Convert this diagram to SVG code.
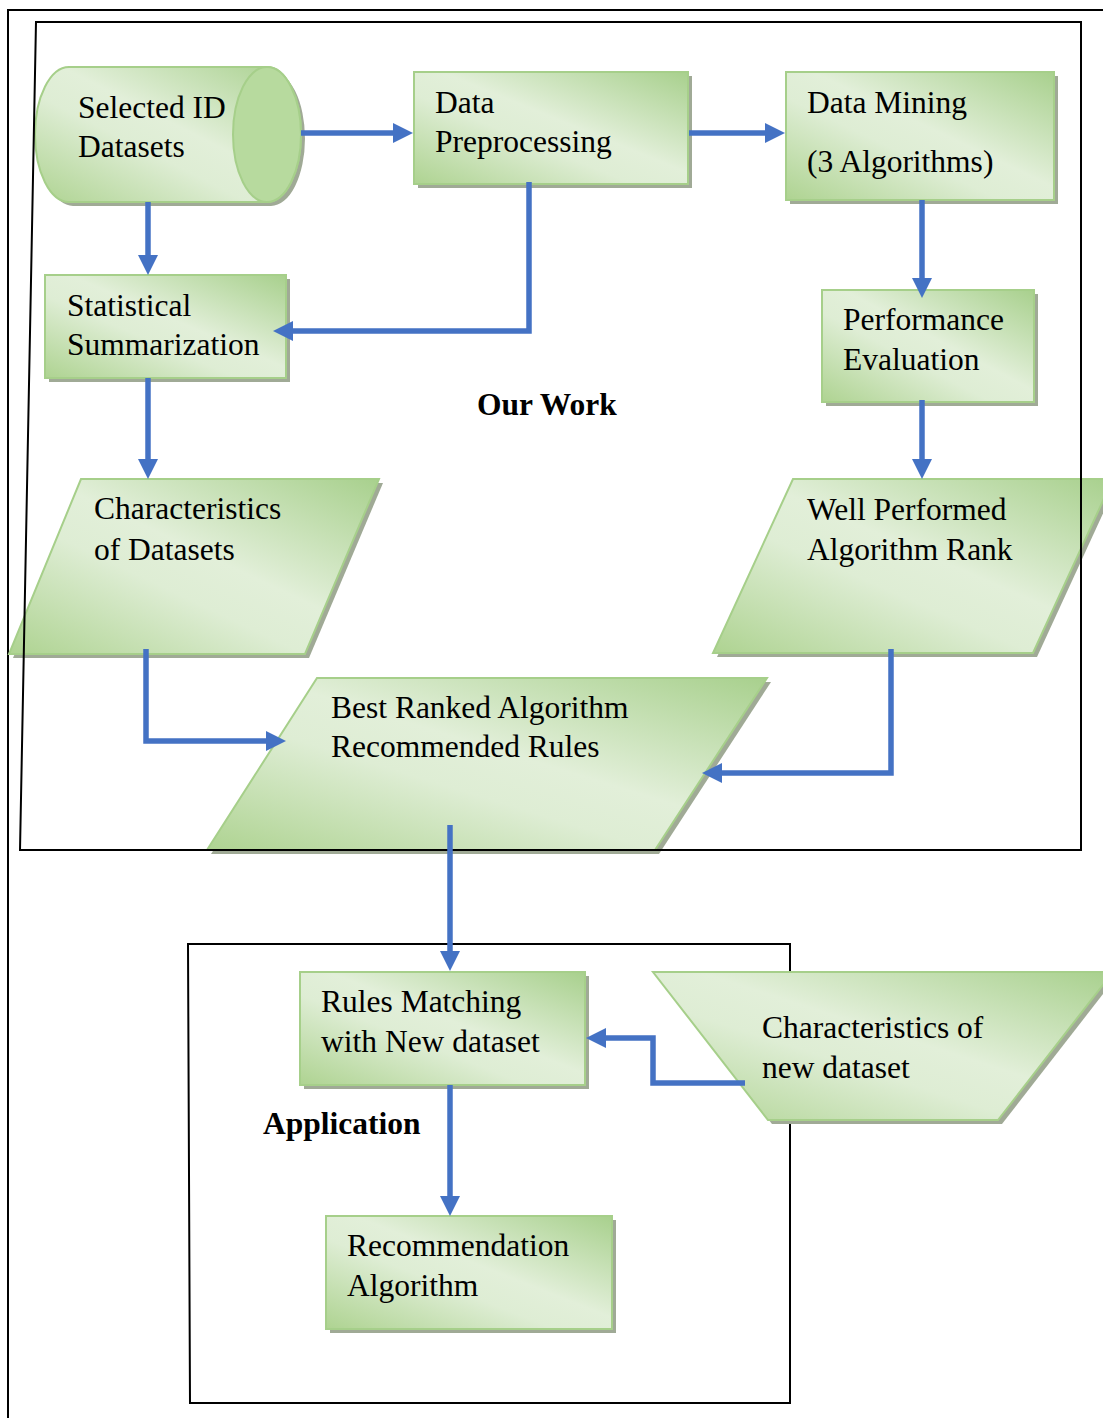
<svg xmlns="http://www.w3.org/2000/svg" width="1103" height="1418" viewBox="0 0 1103 1418">
  <style>
    .frame { fill: none; stroke: #000; stroke-width: 2; }
    .node { fill: url(#greenGrad); stroke: #a6cf8a; stroke-width: 2; }
    .shadow { fill: #a0aa96; }
    .label { font-family: "Liberation Serif", "Times New Roman", serif; font-size: 31.5px; fill: #000; }
    .title { font-family: "Liberation Serif", "Times New Roman", serif; font-size: 31.5px; font-weight: bold; fill: #000; }
    .conn { fill: none; stroke: #4472c4; stroke-width: 5.5; }
  </style>
  <defs>
    <linearGradient id="greenGrad" x1="1" y1="0" x2="0" y2="1">
      <stop offset="0" stop-color="#a8d08d"/>
      <stop offset="0.45" stop-color="#e2efd9"/>
      <stop offset="0.6" stop-color="#deedd4"/>
      <stop offset="1" stop-color="#aed391"/>
    </linearGradient>
    <marker id="arrow" markerUnits="userSpaceOnUse" markerWidth="20" markerHeight="20" refX="10" refY="10" orient="auto">
      <path d="M0,0 L20,10 L0,20 Z" fill="#4472c4"/>
    </marker>
  </defs>

  <rect width="1103" height="1418" fill="#fff"/>

  <!-- outer page frame -->
  <path class="frame" d="M8,1418 V10 H1103"/>

  <!-- application frame -->
  <path class="frame" d="M188,944 H790 V1403 H190 Z"/>

  <!-- nodes -->
  <g id="selected-datasets">
    <path class="shadow" d="M73,71 H271 A34,67.5 0 0 1 271,206 H73 A34,67.5 0 0 1 73,71 Z"/>
    <path class="node" d="M69,67 H267 A34,67.5 0 0 1 267,202 H69 A34,67.5 0 0 1 69,67 Z"/>
    <ellipse cx="267" cy="134.5" rx="34" ry="67.5" fill="#b7da9e" stroke="#a6cf8a" stroke-width="2"/>
    <text class="label" x="78" y="118">Selected ID</text>
    <text class="label" x="78" y="157">Datasets</text>
  </g>

  <g id="data-preprocessing">
    <rect class="shadow" x="418" y="76" width="274" height="112"/>
    <rect class="node" x="414" y="72" width="274" height="112"/>
    <text class="label" x="435" y="113">Data</text>
    <text class="label" x="435" y="152">Preprocessing</text>
  </g>

  <g id="data-mining">
    <rect class="shadow" x="790" y="76" width="268" height="128"/>
    <rect class="node" x="786" y="72" width="268" height="128"/>
    <text class="label" x="807" y="113">Data Mining</text>
    <text class="label" x="807" y="172">(3 Algorithms)</text>
  </g>

  <g id="statistical-summarization">
    <rect class="shadow" x="49" y="279" width="241" height="103"/>
    <rect class="node" x="45" y="275" width="241" height="103"/>
    <text class="label" x="67" y="316">Statistical</text>
    <text class="label" x="67" y="355">Summarization</text>
  </g>

  <g id="performance-evaluation">
    <rect class="shadow" x="826" y="294" width="212" height="112"/>
    <rect class="node" x="822" y="290" width="212" height="112"/>
    <text class="label" x="843" y="330">Performance</text>
    <text class="label" x="843" y="370">Evaluation</text>
  </g>

  <g id="dataset-characteristics">
    <path class="shadow" d="M85,483 H383 L309,658 H13 Z"/>
    <path class="node" d="M81,479 H379 L305,654 H9 Z"/>
    <text class="label" x="94" y="519">Characteristics</text>
    <text class="label" x="94" y="560">of Datasets</text>
  </g>

  <g id="algorithm-rank">
    <path class="shadow" d="M797,483 H1117 L1037,657 H717 Z"/>
    <path class="node" d="M793,479 H1113 L1033,653 H713 Z"/>
    <text class="label" x="807" y="520">Well Performed</text>
    <text class="label" x="807" y="560">Algorithm Rank</text>
  </g>

  <g id="recommended-rules">
    <path class="shadow" d="M321,682 H771 L659,854 H211 Z"/>
    <path class="node" d="M317,678 H767 L655,850 H207 Z"/>
    <text class="label" x="331" y="718">Best Ranked Algorithm</text>
    <text class="label" x="331" y="757">Recommended Rules</text>
  </g>

  <g id="rules-matching">
    <rect class="shadow" x="304" y="976" width="285" height="113"/>
    <rect class="node" x="300" y="972" width="285" height="113"/>
    <text class="label" x="321" y="1012">Rules Matching</text>
    <text class="label" x="321" y="1052">with New dataset</text>
  </g>

  <g id="new-dataset-characteristics">
    <path class="shadow" d="M657,976 H1117 L1002,1124 H772 Z"/>
    <path class="node" d="M653,972 H1113 L998,1120 H768 Z"/>
    <text class="label" x="762" y="1038">Characteristics of</text>
    <text class="label" x="762" y="1078">new dataset</text>
  </g>

  <g id="recommendation-algorithm">
    <rect class="shadow" x="330" y="1220" width="286" height="113"/>
    <rect class="node" x="326" y="1216" width="286" height="113"/>
    <text class="label" x="347" y="1256">Recommendation</text>
    <text class="label" x="347" y="1296">Algorithm</text>
  </g>

  <!-- "Our Work" frame, drawn over its nodes -->
  <path class="frame" d="M36,22 H1081 V850 H20 Z"/>

  <!-- section titles -->
  <text class="title" x="477" y="415">Our Work</text>
  <text class="title" x="263" y="1134">Application</text>

  <!-- connectors -->
  <g id="connectors">
    <path class="conn" marker-end="url(#arrow)" d="M301,133 H403"/>
    <path class="conn" marker-end="url(#arrow)" d="M689,133 H775"/>
    <path class="conn" marker-end="url(#arrow)" d="M148,202 V265"/>
    <path class="conn" marker-end="url(#arrow)" d="M529,182 V331 H283"/>
    <path class="conn" marker-end="url(#arrow)" d="M922,200 V288"/>
    <path class="conn" marker-end="url(#arrow)" d="M148,378 V469"/>
    <path class="conn" marker-end="url(#arrow)" d="M922,400 V469"/>
    <path class="conn" marker-end="url(#arrow)" d="M146,649 V741 H276"/>
    <path class="conn" marker-end="url(#arrow)" d="M891,649 V773 H712"/>
    <path class="conn" marker-end="url(#arrow)" d="M450,825 V961"/>
    <path class="conn" marker-end="url(#arrow)" d="M745,1083 H653 V1038 H596"/>
    <path class="conn" marker-end="url(#arrow)" d="M450,1085 V1206"/>
  </g>
</svg>
